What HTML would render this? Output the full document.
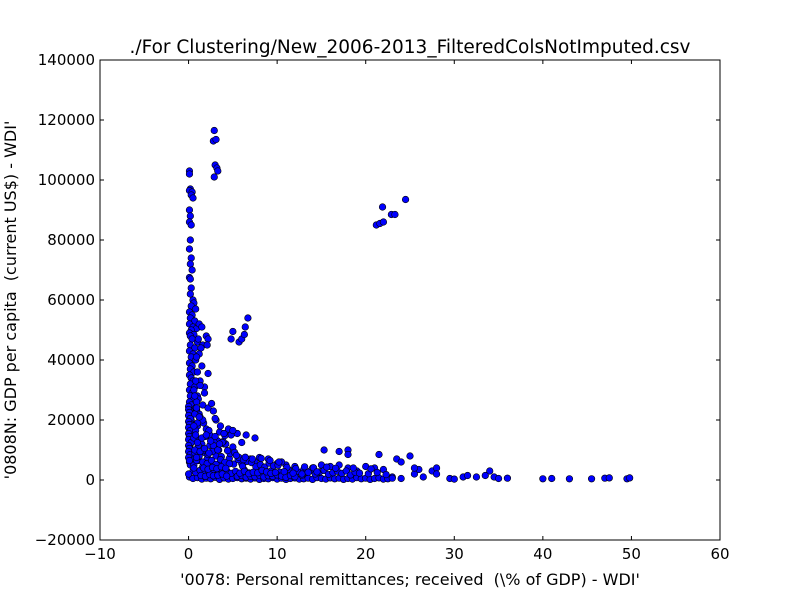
<!DOCTYPE html>
<html><head><meta charset="utf-8"><style>
body{margin:0;background:#fff;}
svg text{font-family:"DejaVu Sans","Liberation Sans",sans-serif;fill:#000;white-space:pre;}
</style></head><body>
<svg id="chart" width="800" height="600" viewBox="0 0 800 600" xmlns="http://www.w3.org/2000/svg">
<rect width="800" height="600" fill="#fff"/>
<text x="410" y="53" font-size="18.5" text-anchor="middle">./For Clustering/New_2006-2013_FilteredColsNotImputed.csv</text>
<g id="marks"></g>
<g id="axes"></g>
<text x="410" y="585" font-size="16" text-anchor="middle">'0078: Personal remittances; received  (\% of GDP) - WDI'</text>
<text transform="translate(16,300) rotate(-90)" font-size="16" text-anchor="middle">'0808N: GDP per capita  (current US$) - WDI'</text>
</svg>
<script>
const xTicks=[-10,0,10,20,30,40,50,60];
const yTicks=[-20000,0,20000,40000,60000,80000,100000,120000,140000];
const remittances=[0.1,0.1,0.2,0.1,0.4,0.3,0.5,0.1,0.2,0.1,0.3,0.2,0.1,0.3,0.2,0.4,0.1,0.2,0.3,0.2,0.5,0.6,0.3,0.8,0.1,0.4,0.2,0.7,0.1,0.5,0.9,0.3,0.1,0.6,0.2,0.4,1.0,0.2,0.7,0.1,0.5,0.3,0.8,0.1,0.4,0.2,0.6,0.1,0.3,0.5,0.2,0.7,0.1,0.4,0.2,0.6,0.1,0.3,0.8,0.2,0.5,0.1,0.3,0.2,0.6,0.1,0.4,0.2,0.1,0.3,0.2,0.1,0.4,0.2,0.1,0.3,0.1,0.2,0.5,0.1,
1.2,1.5,1.1,1.6,2.0,2.2,2.1,1.4,1.2,0.9,1.5,1.3,1.8,1.0,1.6,2.2,1.2,2.8,3.1,2.0,3.5,4.5,4.8,5.5,6.5,7.5,3.0,2.5,6.0,5.0,1.5,1.0,1.3,0.9,1.7,2.4,3.3,4.0,2.7,1.9,
2.9,2.8,3.1,3.0,3.2,3.3,2.9,
4.8,5.0,5.7,6.0,6.3,6.4,6.7,
21.2,21.6,22.0,21.9,22.9,23.3,24.5,
15.3,17.0,18.0,18.0,21.5,23.5,24.0,25.0,25.5,26.0,27.5,28.0,28.0,29.5,30.0,31.0,31.5,32.5,34.0,33.5,34.5,35.0,36.0,40.0,41.0,43.0,45.5,47.0,47.5,49.5,49.8,25.5,26.5,24.0,23.0,22.0,21.0,20.0,19.0,18.0,17.0,16.0,15.0,14.0,13.0,12.0,11.0,10.5,10.0,9.0,8.0,7.0,7.5,6.5,6.0,
0.5,1.0,1.5,2.0,2.5,3.0,3.5,4.0,4.5,5.0,5.5,6.0,6.5,7.0,7.5,8.0,8.5,9.0,9.5,10.0,10.5,11.0,11.5,12.0,12.5,13.0,13.5,14.0,14.5,15.0,15.5,16.0,16.5,17.0,17.5,18.0,18.5,19.0,19.5,20.0,20.5,21.0,21.5,22.0,22.5,23.0,
0.8,1.3,1.8,2.3,2.8,3.3,3.8,4.3,4.8,5.3,5.8,6.3,6.8,7.3,7.8,8.3,8.8,9.3,9.8,10.3,10.8,11.3,11.8,12.3,12.8,13.3,13.8,14.3,14.8,15.3,15.8,16.3,16.8,17.3,17.8,18.3,18.8,19.3,20.3,21.3,22.3,
0.6,1.1,1.6,2.1,2.6,3.1,3.6,4.1,4.6,5.1,5.6,6.1,6.6,7.1,7.6,8.1,8.6,9.1,9.6,10.1,11.1,12.1,13.1,14.1,15.6,16.6,18.6,20.6,
0.7,1.2,1.7,2.2,2.7,3.2,3.7,4.2,4.7,5.2,5.7,6.2,7.2,8.2,9.2,10.2,
0.9,1.4,1.9,2.4,2.9,3.4,3.9,4.4,5.4,6.4,
1.1,1.6,2.3,3.6,4.1,2.6,1.8,1.3,3.0,2.2,
0.0,0.0,0.1,0.0,0.2,0.0,0.1,0.0,0.2,0.0,0.1,0.0,0.3,0.0,0.1,0.0,0.2,0.0,0.1,0.0,
0.6,0.9,0.7,1.0,0.8,0.6,1.1,0.7,0.9,0.6,1.0,0.8,0.7,0.9,1.2,0.6,0.8,1.0,0.7,0.9,
1.4,1.9,2.4,2.8,3.3,3.8,4.3,1.6,2.1,2.6,3.1,3.6,4.1,4.6,1.3,1.8,2.3,2.8,3.3,3.8,1.5,2.0,2.5,3.0,3.5,4.0,4.5,5.0,1.7,2.2,2.7,3.2,3.7,4.2,
5.5,6.0,6.5,7.0,7.5,8.0,8.5,9.0,9.5,10.0,10.5,11.0,11.5,12.0,5.8,6.3,6.8,7.3,7.8,8.3,8.8,9.3,9.8,10.8,11.8,12.8,13.5,14.5];
const gdpPerCapita=[103000,102000,97000,96500,96000,95000,94000,90000,88000,86000,85000,80000,77000,74000,72000,70000,67500,67000,64000,62000,60000,59000,58000,57000,56000,55000,54000,53000,52000,51000,50500,50000,49000,48500,48000,47000,46000,45000,44000,43000,42000,41000,40000,39000,38000,37000,36000,35000,34000,33000,32000,31000,30000,29000,28000,27000,26000,25000,24000,23000,22000,21000,20000,19000,18000,17000,16000,15000,14000,13000,12000,11000,10000,9000,8000,7000,6000,5000,3000,1000,
52000,51000,47000,45000,48000,47000,45000,44000,42000,41000,38000,33000,31000,28000,25000,24000,22000,23000,20000,17000,16000,16000,15000,15500,15000,14000,14000,13000,12500,11000,12000,18000,21000,23500,19000,15000,13000,12000,11000,9000,
116500,113000,113500,105000,104000,103000,101000,
47000,49500,46000,47000,48500,51000,54000,
85000,85500,86000,91000,88500,88500,93500,
10000,9500,10000,8500,8500,7000,6000,8000,2000,3500,3000,4000,2000,500,300,1000,1500,1000,3000,1500,1000,500,600,400,500,400,400,600,700,400,700,4000,1000,500,1000,3500,4000,4500,3000,4000,5000,4500,5000,4000,3500,4500,5000,6000,5500,7000,7500,7000,6000,6500,5500,
500,800,300,600,400,900,200,700,300,500,800,400,600,300,700,200,500,400,800,300,600,200,500,700,300,400,600,200,800,500,300,700,400,600,200,500,300,800,400,600,200,500,700,300,400,600,
2500,3200,2100,2800,3500,1800,2600,3100,2200,2900,1700,3300,2400,2000,3600,2700,1900,3000,2300,2600,1800,3400,2100,2800,1600,2500,3100,2000,2700,3200,1900,2400,2900,2200,3000,1700,2600,2300,2100,2500,1800,
5000,6500,4500,7000,5500,8000,6000,4800,7200,5300,6800,4600,6200,5800,4400,5100,4300,5600,4700,4900,4200,3800,4400,4100,4300,3900,4000,3700,
9000,8000,10000,8500,9500,11000,7800,12000,8800,9200,7500,6800,7000,7200,6500,6000,
13500,10500,14500,11500,12500,10000,12800,9800,8200,7600,
27000,20000,16500,18000,14800,25500,29000,31500,20500,35500,
24500,23500,22500,21500,20500,19500,18500,17500,16500,15500,14500,13500,12500,11500,10500,9500,8500,7500,6500,2000,
30000,26000,22000,19000,16500,14000,11500,9000,6500,4000,36000,33000,28000,24000,21000,18000,15000,12500,10000,7500,
1500,1200,1800,1400,1600,2000,1300,6000,5500,6500,5200,6800,5900,5400,9500,10500,9000,11500,10000,12500,14000,15000,13000,14500,12000,15500,17000,16500,4000,3600,4200,3800,4400,3900,
1200,1500,900,1300,1100,1600,1000,1400,1200,1700,1300,900,1500,1100,2300,2900,2100,2600,2400,3200,2700,2200,2500,2800,2300,2000,2600,2700];
const svg=document.getElementById('chart');
const NS='http://www.w3.org/2000/svg';
const L=100,R=720,T=60,B=540;
const xs=v=>L+(v-(-10))/(70)*(R-L);
const ys=v=>B-(v-(-20000))/160000*(B-T);
const marks=document.getElementById('marks');
for(let i=0;i<remittances.length;i++){
  const c=document.createElementNS(NS,'circle');
  c.setAttribute('cx',xs(remittances[i]));c.setAttribute('cy',ys(gdpPerCapita[i]));
  c.setAttribute('r',3.3);c.setAttribute('fill','#0000ff');c.setAttribute('stroke','#000');c.setAttribute('stroke-width','0.6');
  
  
  marks.appendChild(c);
}
const axes=document.getElementById('axes');
const fr=document.createElementNS(NS,'rect');
fr.setAttribute('x',L);fr.setAttribute('y',T);fr.setAttribute('width',R-L);fr.setAttribute('height',B-T);
fr.setAttribute('fill','none');fr.setAttribute('stroke','#000');fr.setAttribute('stroke-width','1');


axes.appendChild(fr);
function line(x1,y1,x2,y2){const l=document.createElementNS(NS,'line');l.setAttribute('x1',x1);l.setAttribute('y1',y1);l.setAttribute('x2',x2);l.setAttribute('y2',y2);l.setAttribute('stroke','#000');


axes.appendChild(l);}
function text(x,y,s,anchor){const t=document.createElementNS(NS,'text');t.setAttribute('x',x);t.setAttribute('y',y);t.setAttribute('font-size','15');t.setAttribute('text-anchor',anchor);t.textContent=s;


axes.appendChild(t);}
xTicks.forEach(v=>{const x=xs(v);line(x,B,x,B-4);line(x,T,x,T+4);text(x,B+19,String(v).replace('-','\u2212'),'middle');});
yTicks.forEach(v=>{const y=ys(v);line(L,y,L+4,y);line(R,y,R-4,y);text(L-5,y+5,String(v).replace('-','\u2212'),'end');});
</script>
</body></html>
